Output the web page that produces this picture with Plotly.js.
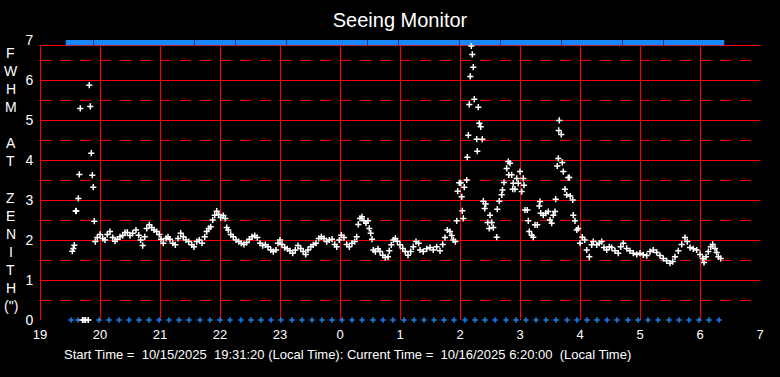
<!DOCTYPE html>
<html>
<head>
<meta charset="utf-8">
<script src="https://cdn.plot.ly/plotly-3.0.1.min.js"></script>
<style>html,body{margin:0;padding:0;background:#000;}#chart{width:780px;height:377px;}</style>
</head>
<body>
<div id="chart"></div>
<script>
// x values are minutes after 19:00 local time
const hourTickMinutes = [0,60,120,180,240,300,360,420,480,540,600,660,720];
const hourTickLabels = ['19','20','21','22','23','0','1','2','3','4','5','6','7'];
const fwhmTicks = [0,1,2,3,4,5,6,7];
const solidLevels = [0,1,2,3,4,5,6,6.875];
const halfTicks = [0.5,1.5,2.5,3.5,4.5,5.5,6.5];

// status markers (blue), minutes after 19:00
const statusMinutes = [31,38,48,59,69,79,89,99,109,119,129,139,149,160,170,180,190,201,211,221,231,241,252,262,272,282,292,302,312,322,333,343,353,364,374,384,394,404,414,425,435,445,455,466,476,486,496,506,516,527,537,547,557,567,577,588,598,608,618,629,639,649,659,669,679];
const statusLow = statusMinutes.map(() => 0);
const statusHigh = statusMinutes.map(() => 7);

// FWHM at zenith measurements (arcsec)
const fwhmMinutes = [
32.3,33.3,34.3,35.7,36.3,38.3,39.3,40.3,42.5,44,45.5,48.3,49.3,50.3,51.3,52.3,53.3,54.3,
55.3,57.3,60,62.7,65,67.3,70,72.7,75,77.3,80,82.7,85,87.3,90,92.7,96,98.7,100.7,102.7,104.7,106.7,
109.3,111.7,114,116.7,119.3,121,123.3,126,128,130,132.7,135.3,138,140.7,143.3,146,148.7,151.7,154,156.7,
159.3,162,164.7,166.7,168.7,170.7,172.7,174.7,176.7,178.7,180.7,183.3,185.3,186.7,188.3,190.7,193.3,196,198.7,201.3,
204,206.7,209.3,212,214.7,217.3,220,222.7,225.3,228,230.7,233.3,236,238,240,242,244.7,247.3,250,252.7,
255.3,258,260.7,263.3,265.7,268,270.7,273.3,276,278.7,281.3,284,286.7,289.3,292,294.7,296.7,299.3,301.3,304,
306.7,309.3,312,314.7,316.7,318.3,320,322,324,326,328,329.3,330.7,332,333.3,335.3,338,340,342.7,345.3,
348,349.3,351.3,353.3,355.3,357.3,360,362.7,365.3,368,370.7,373.3,376,378.7,
380,383.3,386.7,390,393.3,396.7,400,402.7,405,407.3,410,411.7,413.3,415.3,
416.7,417.7,419.3,420.7,421.7,422.3,423.3,424.3,426.7,427.3,428.3,429.3,430.3,431.3,432.3,433.3,434.3,436.7,437.3,438.3,439.3,440.7,442.3,
443.3,444.7,445.7,447.7,449.3,450,451.7,453.3,456.7,457.3,459.3,461.7,462.5,464,466.7,468.3,468.8,470,471.7,472.7,473.3,475,476.7,478.3,480,481.7,483.3,484,
485,487.3,488.3,489.3,491.7,493.3,495,497.3,499.3,500,500.7,503.3,505.7,508.3,510,511.7,513.3,515,515.7,
517.3,518.3,518.7,519.3,521.3,522.3,523.3,525,526.7,528.3,529.3,530.3,532.7,533.3,535,536.7,538.3,540,542.3,544.7,546.7,549.3,
551.7,553.3,556.7,559.3,561.7,564,566.7,569.3,571.7,575,578.3,580.7,583.3,586.7,590,593.3,596.7,600,603.3,606.7,
610,613.3,616.7,620,623.3,626.7,630,632.7,635,638.3,641.7,645,647.3,650,653.3,656.7,660,662.7,664,666,
668.3,670.7,672.7,675,676.7,678.3,680.7
];
const fwhmValues = [
1.72,1.79,1.87,2.72,2.73,3.04,3.64,5.29,0,0,0,0,5.87,5.34,4.17,3.62,3.32,2.47,
1.96,2.06,2.14,2.04,2.0,2.14,2.21,2.06,1.97,2.02,2.08,2.11,2.19,2.19,2.11,2.17,2.25,2.12,2.0,1.86,2.08,2.29,
2.38,2.31,2.25,2.21,2.14,2.02,1.92,2.04,2.08,2.02,1.92,1.88,2.04,2.17,2.08,2.0,1.96,1.88,1.83,1.96,
2.0,1.92,2.08,2.21,2.29,2.33,2.5,2.62,2.72,2.64,2.56,2.61,2.54,2.31,2.25,2.14,2.08,2.0,1.96,1.92,
1.89,1.94,2.02,2.08,2.11,2.06,1.92,1.86,1.88,1.83,1.75,1.71,1.75,1.92,2.0,1.89,1.81,1.78,1.73,1.67,
1.75,1.86,1.79,1.71,1.64,1.75,1.83,1.88,1.92,2.04,2.08,2.04,1.96,2.0,2.02,1.89,1.83,2.0,2.12,2.06,
1.89,1.83,1.92,1.96,2.08,2.39,2.54,2.58,2.48,2.42,2.48,2.29,2.17,2.02,1.75,1.71,1.78,1.71,1.62,1.56,
1.58,1.73,1.88,2.0,2.04,1.97,1.88,1.79,1.71,1.62,1.71,1.83,1.96,1.92,
1.75,1.71,1.78,1.81,1.75,1.83,1.73,1.89,2.06,2.25,2.21,2.11,2.0,1.96,
2.48,3.22,3.43,3.43,3.08,2.73,2.54,3.32,3.5,4.07,4.62,5.39,6.09,6.85,6.64,6.32,5.52,4.52,4.22,5.32,4.92,4.83,4.52,
2.97,2.79,2.9,2.44,2.29,2.62,2.44,2.31,2.07,2.77,2.97,3.13,3.25,3.44,3.79,3.96,3.63,3.92,3.63,3.27,3.42,3.27,3.54,3.42,3.71,3.21,3.54,3.37,
2.75,2.75,2.48,2.21,2.12,2.07,2.38,2.38,2.85,2.96,2.67,2.62,2.67,2.71,2.5,2.42,2.62,2.71,3.02,
3.85,4.04,4.74,4.99,4.64,3.94,3.71,3.27,3.13,3.56,3.56,3.1,3.0,2.62,2.48,2.25,2.29,1.92,2.07,2.0,1.75,1.58,
1.88,1.96,1.88,1.92,1.96,1.81,1.75,1.83,1.81,1.73,1.67,1.83,1.92,1.79,1.73,1.67,1.64,1.67,1.63,1.61,
1.71,1.75,1.69,1.61,1.54,1.48,1.42,1.46,1.58,1.73,1.89,2.06,1.96,1.81,1.78,1.75,1.64,1.54,1.44,1.58,
1.71,1.83,1.89,1.79,1.69,1.58,1.54
];

const sideLetters = ['F','W','H','M','','A','T','','Z','E','N','I','T','H','(")'];
const titleText = 'Seeing Monitor';
const footerText = 'Start Time\u00a0=\u00a0 10/15/2025\u00a0 19:31:20 (Local Time): Current Time\u00a0=\u00a0 10/16/2025 6:20:00\u00a0 (Local Time)';

const RED = '#ff0000';
const BLUE = 'rgb(24,136,250)';
const FONT = 'Liberation Sans, Arial, sans-serif';
const frameTop = 6.875;

// crisp 1px lines: anchored in data units, offset half a pixel
const shapes = [];
hourTickMinutes.forEach(m => shapes.push({type:'line', layer:'below', xref:'x', yref:'y', xsizemode:'pixel', xanchor:m, x0:0.5, x1:0.5, y0:0, y1:frameTop, line:{color:RED, width:1}}));
solidLevels.forEach(v => shapes.push({type:'line', layer:'below', xref:'x', yref:'y', ysizemode:'pixel', yanchor:v, y0:-0.5, y1:-0.5, x0:0, x1:720, line:{color:RED, width:1}}));
halfTicks.forEach(v => shapes.push({type:'line', layer:'below', xref:'x', yref:'y', ysizemode:'pixel', yanchor:v, y0:-0.5, y1:-0.5, x0:0, x1:720, line:{color:RED, width:1, dash:'11px,9px'}}));

const annotations = [];
sideLetters.forEach((c, i) => {
  if (!c) return;
  annotations.push({xref:'paper', yref:'paper', x:(11-40)/720, y:(320-(53+i*18.07))/280, xanchor:'center', yanchor:'middle', showarrow:false, text:c, font:{family:FONT, size:14, color:'#ffffff'}});
});
annotations.push({xref:'paper', yref:'paper', x:(62-40)/720, y:(320-354)/280, xanchor:'left', yanchor:'middle', showarrow:false, text:footerText, font:{family:FONT, size:13, color:'#ffffff'}});

const traces = [
  {type:'scatter', mode:'markers', x:statusMinutes, y:statusHigh, cliponaxis:true, hoverinfo:'skip',
   marker:{symbol:'square', size:10.5, color:BLUE, line:{width:0}}},
  {type:'scatter', mode:'markers', x:statusMinutes, y:statusLow, cliponaxis:false, hoverinfo:'skip',
   marker:{symbol:'cross-thin-open', size:3.8, color:BLUE, line:{color:BLUE, width:1.4}}},
  {type:'scatter', mode:'markers', x:fwhmMinutes, y:fwhmValues, cliponaxis:false,
   marker:{symbol:'cross-thin-open', size:4.4, color:'#ffffff', line:{color:'#ffffff', width:1.5}}}
];

const layout = {
  width:780, height:377,
  paper_bgcolor:'#000000', plot_bgcolor:'#000000',
  margin:{l:40, r:20, t:40, b:57, pad:0},
  showlegend:false,
  title:{text:titleText, x:0.5, xanchor:'center', xref:'paper', y:1-20/377, yref:'container', yanchor:'middle', font:{family:FONT, size:20, color:'#ffffff'}},
  xaxis:{range:[0,720], tickvals:hourTickMinutes, ticktext:hourTickLabels, showgrid:false, zeroline:false, showline:false,
         ticks:'outside', ticklen:2, tickcolor:'rgba(0,0,0,0)', tickfont:{family:FONT, size:13, color:'#ffffff'}, fixedrange:true},
  yaxis:{range:[0,7], tickvals:fwhmTicks, showgrid:false, zeroline:false, showline:false,
         ticks:'outside', ticklen:3, tickcolor:'rgba(0,0,0,0)', tickfont:{family:FONT, size:14, color:'#ffffff'}, fixedrange:true},
  shapes:shapes,
  annotations:annotations
};

Plotly.newPlot('chart', traces, layout, {staticPlot:true, displayModeBar:false});
</script>
</body>
</html>
